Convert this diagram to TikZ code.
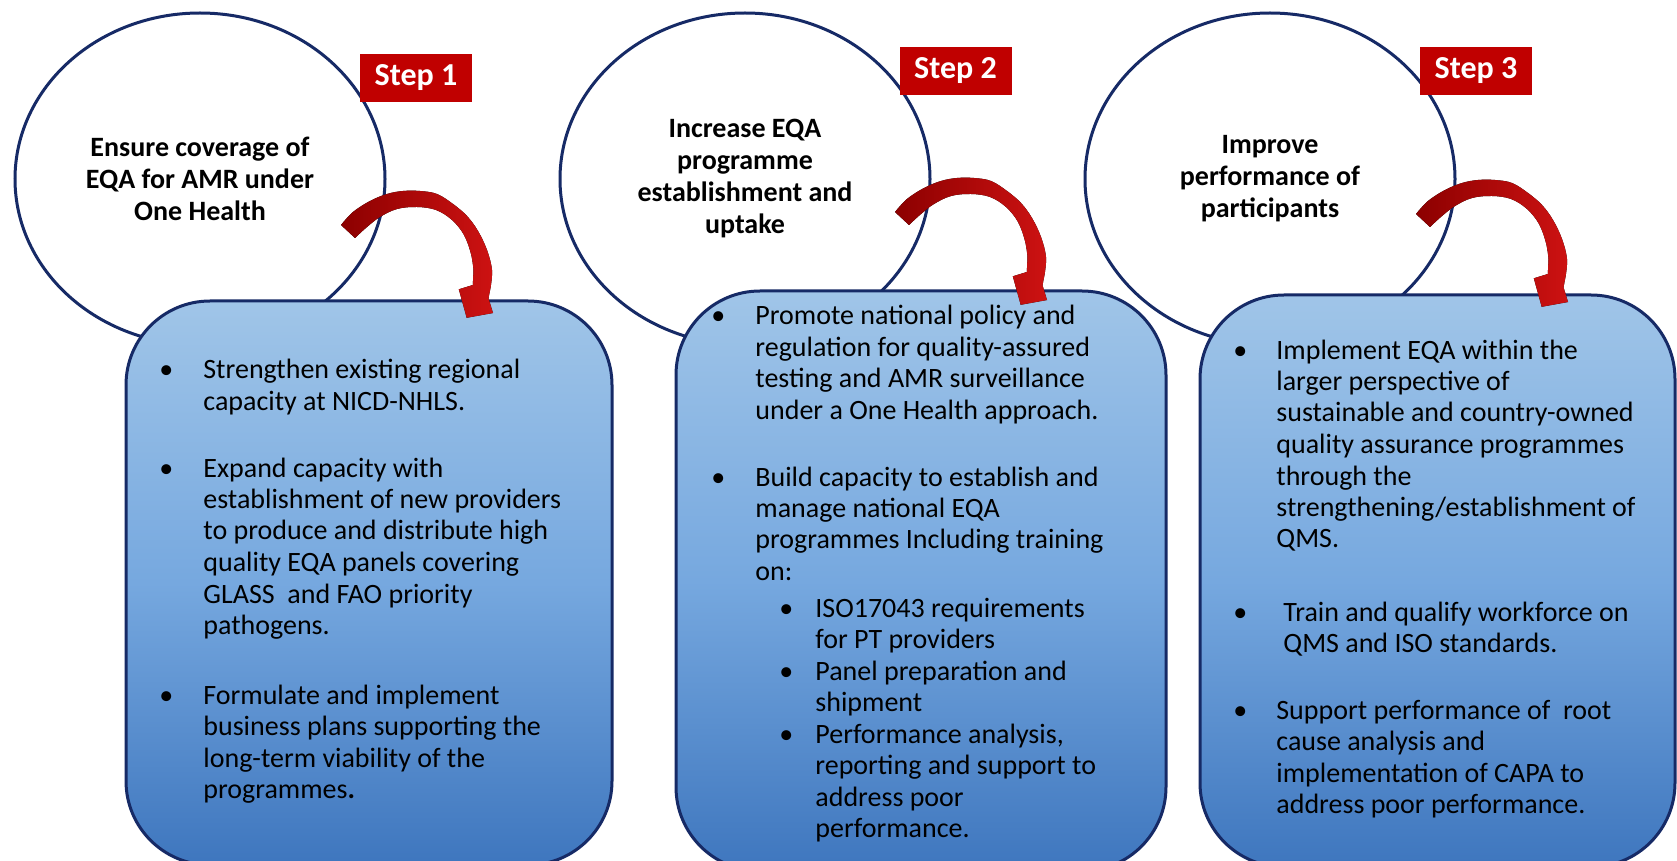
\documentclass[tikz,border=0pt]{standalone}
\usepackage{fontspec}
\setmainfont{Carlito}
\usetikzlibrary{shapes.geometric}
\definecolor{cNavy}{RGB}{22,42,102}
\definecolor{cRed}{RGB}{192,0,0}
\definecolor{cTop}{RGB}{160,197,232}
\definecolor{cMid}{RGB}{118,168,223}
\definecolor{cBot}{RGB}{62,118,190}
\definecolor{cArrL}{RGB}{140,0,0}
\definecolor{cArrR}{RGB}{205,18,18}
\newcommand{\myarrowshape}{%
  \fill[arrowfill] plot[smooth, tension=0.6] coordinates {(341,225) (353,212) (370,201) (387,194) (403,191) (420,191) (437,194) (453,204) (467,216) (478,231) (487,250) (492,270) (490.5,288)}
    -- (488.5,298.3) -- (493,313) -- (466.7,317.8) -- (458.8,289.3) -- (472.8,285)
    -- plot[smooth, tension=0.6] coordinates {(473.5,270) (471,254) (464,235) (452,220) (436,210) (417,207) (397,209) (380,217) (367,227) (355,238)} -- cycle;}
\newcommand{\bb}[1]{\makebox[#1][l]{•}}
\begin{document}
\begin{tikzpicture}[x=0.5pt,y=-0.5pt,
  circ/.style={ellipse, draw=cNavy, line width=1.5pt, fill=white, minimum width=185pt, minimum height=166pt, inner sep=0pt, align=center, font=\bfseries\fontsize{14}{16}\selectfont},
  panel/.style={draw=cNavy, line width=1.5pt, rounded corners=42pt, top color=cTop, bottom color=cBot, middle color=cMid, inner sep=0pt},
  steplbl/.style={fill=cRed, text=white, font=\bfseries\fontsize{16}{19}\selectfont, minimum width=56pt, minimum height=24pt, inner sep=0pt},
  bodytext/.style={anchor=base west, inner sep=0pt, font=\fontsize{14}{15.75}\selectfont},
  arrowfill/.style={left color=cArrL, right color=cArrR}
]
\useasboundingbox (0,0) rectangle (1677,861);
\fill[white] (0,0) rectangle (1677,861);
\begin{scope}
\clip (0,0) rectangle (1677,861);
% circles
\node[circ] (c1) at (200,179) {Ensure coverage of\\EQA for AMR under\\One Health};
\node[circ] (c2) at (745,179) {Increase EQA\\programme\\establishment and\\uptake};
\node[circ] (c3) at (1270,179) {Improve\\performance of\\participants};
% panels
\node[panel, minimum width=243pt, minimum height=282pt] (b1) at (369,583) {};
\node[panel, minimum width=245pt, minimum height=290pt] (b2) at (921,581) {};
\node[panel, minimum width=237.5pt, minimum height=286pt] (b3) at (1437.5,581) {};
% step labels
\node[steplbl] (s1) at (416,78) {Step 1};
\node[steplbl] (s2) at (955.5,71) {Step 2};
\node[steplbl] (s3) at (1476,71) {Step 3};
% arrows
\myarrowshape
\begin{scope}[shift={(554,-13)}]\myarrowshape\end{scope}
\begin{scope}[shift={(1075,-11)}]\myarrowshape\end{scope}
% box 1 text
\node[bodytext] (t1a) at (159,379) {\begin{tabular}[t]{@{}l@{}l@{}}\bb{22pt}&Strengthen existing regional\\&capacity at NICD-NHLS.\end{tabular}};
\node[bodytext] (t1b) at (159,477) {\begin{tabular}[t]{@{}l@{}l@{}}\bb{22pt}&Expand capacity with\\&establishment of new providers\\&to produce and distribute high\\&quality EQA panels covering\\&GLASS\ \ and FAO priority\\&pathogens.\end{tabular}};
\node[bodytext] (t1c) at (159,704) {\begin{tabular}[t]{@{}l@{}l@{}}\bb{22pt}&Formulate and implement\\&business plans supporting the\\&long-term viability of the\\&programmes\textbf{.}\end{tabular}};
% box 2 text
\node[bodytext] (t2a) at (711,325) {\begin{tabular}[t]{@{}l@{}l@{}}\bb{22pt}&Promote national policy and\\&regulation for quality-assured\\&testing and AMR surveillance\\&under a One Health approach.\end{tabular}};
\node[bodytext] (t2b) at (711,486) {\begin{tabular}[t]{@{}l@{}l@{}}\bb{22pt}&Build capacity to establish and\\&manage national EQA\\&programmes Including training\\&on:\end{tabular}};
\node[bodytext] (t2c) at (779,617) {\begin{tabular}[t]{@{}l@{}l@{}}\bb{18pt}&ISO17043 requirements\\&for PT providers\\\bb{18pt}&Panel preparation and\\&shipment\\\bb{18pt}&Performance analysis,\\&reporting and support to\\&address poor\\&performance.\end{tabular}};
% box 3 text
\node[bodytext] (t3a) at (1233,359) {\begin{tabular}[t]{@{}l@{}l@{}}\bb{21.5pt}&Implement EQA within the\\&larger perspective of\\&sustainable and country-owned\\&quality assurance programmes\\&through the\\&strengthening/establishment of\\&QMS.\end{tabular}};
\node[bodytext] (t3b) at (1233,621) {\begin{tabular}[t]{@{}l@{}l@{}}\bb{21.5pt}&\hspace{3.5pt}Train and qualify workforce on\\&\hspace{3.5pt}QMS and ISO standards.\end{tabular}};
\node[bodytext] (t3c) at (1233,719) {\begin{tabular}[t]{@{}l@{}l@{}}\bb{21.5pt}&Support performance of\ \ root\\&cause analysis and\\&implementation of CAPA to\\&address poor performance.\end{tabular}};
\end{scope}
\end{tikzpicture}
\end{document}
